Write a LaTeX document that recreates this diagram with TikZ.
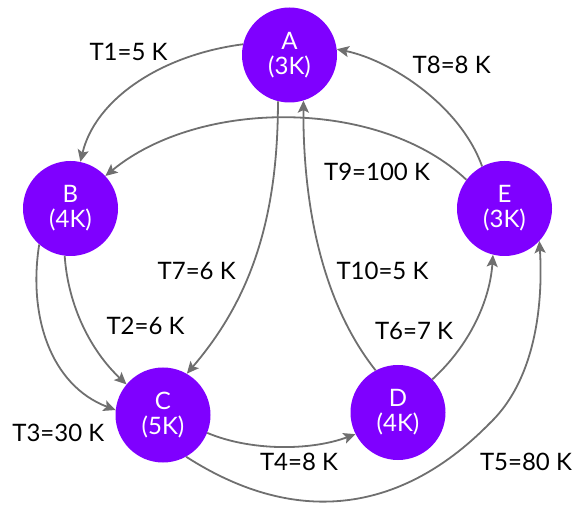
\documentclass[tikz,border=0pt]{standalone}
\usepackage{fontspec}
\setmainfont{Lato}
\usetikzlibrary{arrows.meta}
\definecolor{nodepurple}{HTML}{7F00FF}
\definecolor{edgegray}{HTML}{6F6F6F}
\begin{document}
\begin{tikzpicture}[x=1pt,y=-1pt,
  state/.style={circle, fill=nodepurple, text=white, minimum size=95pt, inner sep=0pt, align=center, font=\fontsize{24}{25}\selectfont},
  lbl/.style={text=black, inner sep=0pt, font=\fontsize{24}{25}\selectfont},
  conn/.style={draw=edgegray, line width=1.8pt, -{Stealth[length=12pt,width=11pt,inset=2.5pt]}}]
\useasboundingbox (0,0) rectangle (579,505);
\node[state] (A) at (289.5,55) {A\\(3K)};
\node[state] (B) at (70.5,208.5) {B\\(4K)};
\node[state] (C) at (163,415) {C\\(5K)};
\node[state] (D) at (398,412.5) {D\\(4K)};
\node[state] (E) at (504.5,208.5) {E\\(3K)};
\coordinate (t5mid) at (490,423);
\draw[conn] (A.167) .. controls (160,55) and (95,100) .. (B.78);
\draw[conn] (E.143) .. controls (380,98) and (200,98) .. (B.43);
\draw[conn] (E.118) .. controls (460,105) and (390,60) .. (A.7);
\draw[conn] (A.256) .. controls (278,220) and (250,300) .. (C.60);
\draw[conn] (D.118) .. controls (320,300) and (303,200) .. (A.287);
\draw[conn] (B.263) .. controls (68,305) and (90,350) .. (C.140);
\draw[conn] (B.229) .. controls (28,315) and (50,385) .. (C.174);
\draw[conn] (D.44) .. controls (470,345) and (490,300) .. (E.256);
\draw[conn] (C.338) .. controls (250,451) and (310,451) .. (D.207);
\draw[conn] (C.299) .. controls (300,530) and (405,510) .. (t5mid) .. controls (537,378) and (543,300) .. (E.317);
\node[lbl] (l1) at (128.5,52) {T1=5 K};
\node[lbl] (l8) at (451.7,64.7) {T8=8 K};
\node[lbl] (l9) at (377,172) {T9=100 K};
\node[lbl] (l7) at (196.7,271) {T7=6 K};
\node[lbl] (l10) at (382.5,270.5) {T10=5 K};
\node[lbl] (l6) at (414,331) {T6=7 K};
\node[lbl] (l2) at (145.5,326) {T2=6 K};
\node[lbl] (l3) at (58.3,433) {T3=30 K};
\node[lbl] (l4) at (299,462) {T4=8 K};
\node[lbl] (l5) at (526,462) {T5=80 K};
\end{tikzpicture}
\end{document}
